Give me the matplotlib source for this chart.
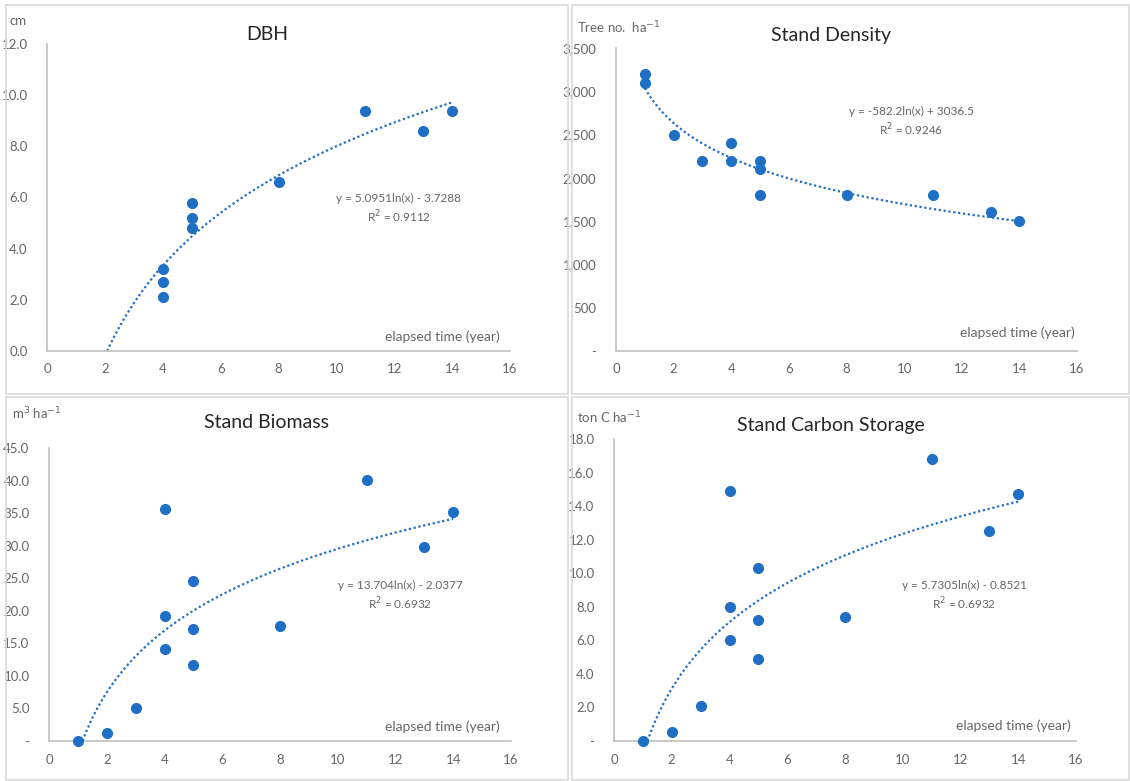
import numpy as np
import matplotlib
matplotlib.use("Agg")
import matplotlib.pyplot as plt
from matplotlib.patches import Rectangle
from matplotlib.ticker import FixedLocator, FuncFormatter

plt.rcParams['font.family'] = ['Lato', 'DejaVu Sans']

# ---- data ----
dbh_x = [4, 4, 4, 5, 5, 5, 8, 11, 13, 14]
dbh_y = [3.2, 2.7, 2.1, 5.8, 5.2, 4.8, 6.6, 9.4, 8.6, 9.4]
dbh_coef = (5.0951, -3.7288)

dens_x = [1, 1, 2, 3, 4, 4, 5, 5, 5, 8, 11, 13, 14]
dens_y = [3200, 3100, 2500, 2200, 2400, 2200, 2200, 2100, 1800, 1800, 1800, 1600, 1500]
dens_coef = (-582.2, 3036.5)

bio_x = [1, 2, 3, 4, 4, 4, 5, 5, 5, 8, 11, 13, 14]
bio_y = [0.05, 1.3, 5.1, 35.6, 19.2, 14.2, 24.6, 17.2, 11.7, 17.6, 40.1, 29.8, 35.1]
bio_coef = (13.704, -2.0377)

carb_x = [1, 2, 3, 4, 4, 4, 5, 5, 5, 8, 11, 13, 14]
carb_y = [0.02, 0.52, 2.1, 14.9, 8.0, 6.0, 10.3, 7.2, 4.9, 7.4, 16.8, 12.5, 14.7]
carb_coef = (5.7305, -0.8521)

titles = ["DBH", "Stand Density", "Stand Biomass", "Stand Carbon Storage"]
units = ["cm", "Tree no.  ha$^{-1}$", "m$^{3}$ ha$^{-1}$", "ton C ha$^{-1}$"]
equations = ["y = 5.0951ln(x) - 3.7288\nR$^{2}$ = 0.9112",
             "y = -582.2ln(x) + 3036.5\nR$^{2}$ = 0.9246",
             "y = 13.704ln(x) - 2.0377\nR$^{2}$ = 0.6932",
             "y = 5.7305ln(x) - 0.8521\nR$^{2}$ = 0.6932"]
x_ticks = [0, 2, 4, 6, 8, 10, 12, 14, 16]
y_ticks = [[0, 2, 4, 6, 8, 10, 12],
           [0, 500, 1000, 1500, 2000, 2500, 3000, 3500],
           [0, 5, 10, 15, 20, 25, 30, 35, 40, 45],
           [0, 2, 4, 6, 8, 10, 12, 14, 16, 18]]

W, H = 1130, 781
fig = plt.figure(figsize=(W / 100, H / 100), dpi=100)

BLUE = "#1f6fc5"
GREY = "#666666"
SPINE = "#bfbfbf"
BORDER = "#d9d9d9"

def fx(px):
    return px / W

def fy(py):
    return 1 - py / H

# panel borders (pixel boxes)
boxes = [(6, 5, 568, 394), (572, 5, 1129, 394), (6, 397, 568, 780), (572, 397, 1129, 780)]
for (x0, y0, x1, y1) in boxes:
    fig.patches.append(Rectangle((fx(x0), fy(y1)), fx(x1) - fx(x0), fy(y0) - fy(y1),
                                 transform=fig.transFigure, fill=False,
                                 edgecolor=BORDER, linewidth=1.2))

# axes (pixel boxes: left, top, right, bottom)
axboxes = [(47, 44, 510, 351), (616, 48, 1077, 351), (49, 448, 511, 741), (614, 439, 1076, 741)]
datasets = [(dbh_x, dbh_y, dbh_coef), (dens_x, dens_y, dens_coef),
            (bio_x, bio_y, bio_coef), (carb_x, carb_y, carb_coef)]
title_pos = [(267, 34), (831, 35), (266, 423), (831, 425)]
unit_pos = [(10, 21), (577, 28), (12, 414), (577, 418)]
eq_pos = [(399, 209), (911, 122), (400, 596), (964, 596)]
el_pos = [(500, 337), (1075, 333), (500, 727), (1071, 726)]

def fmt_factory(i):
    def f(v, pos):
        if i == 0:
            return "%.1f" % v
        if v == 0:
            return "-"
        if i == 1:
            return "{:,.0f}".format(v)
        return "%.1f" % v
    return f

for i in range(4):
    l, t, r, b = axboxes[i]
    ax = fig.add_axes([fx(l), fy(b), fx(r) - fx(l), fy(t) - fy(b)])
    xs, ys, (a, c) = datasets[i]
    ax.set_xlim(0, 16)
    ax.set_ylim(0, y_ticks[i][-1])
    # trendline from displayed coefficients, clipped at the x axis
    if a > 0:
        xstart = np.exp(-c / a)
    else:
        xstart = min(xs)
    xt = np.linspace(xstart, max(xs), 200)
    ax.plot(xt, a * np.log(xt) + c, linestyle=(0, (1, 1.2)), color=BLUE, linewidth=1.6, zorder=2)
    ax.plot(xs, ys, linestyle="none", marker="o", markersize=7, color=BLUE,
            markeredgecolor=BLUE, zorder=3, clip_on=False)
    for s in ["top", "right"]:
        ax.spines[s].set_visible(False)
    for s in ["left", "bottom"]:
        ax.spines[s].set_color(SPINE)
        ax.spines[s].set_linewidth(1.2)
    ax.xaxis.set_major_locator(FixedLocator(x_ticks))
    ax.yaxis.set_major_locator(FixedLocator(y_ticks[i]))
    ax.yaxis.set_major_formatter(FuncFormatter(fmt_factory(i)))
    ax.tick_params(axis="both", length=0, labelsize=9.5, labelcolor=GREY)
    ax.tick_params(axis="x", pad=9)
    ax.tick_params(axis="y", pad=14)
    ax.patch.set_alpha(0)

    fig.text(fx(title_pos[i][0]), fy(title_pos[i][1]), titles[i], ha="center", va="center",
             fontsize=14, color="#262626")
    fig.text(fx(unit_pos[i][0]), fy(unit_pos[i][1]), units[i], ha="left", va="center",
             fontsize=9.5, color=GREY)
    fig.text(fx(eq_pos[i][0]), fy(eq_pos[i][1]), equations[i], ha="center", va="center",
             fontsize=8.5, color=GREY, linespacing=1.3)
    fig.text(fx(el_pos[i][0]), fy(el_pos[i][1]), "elapsed time (year)", ha="right", va="center",
             fontsize=10, color=GREY)

fig.savefig("out.png", dpi=100)
